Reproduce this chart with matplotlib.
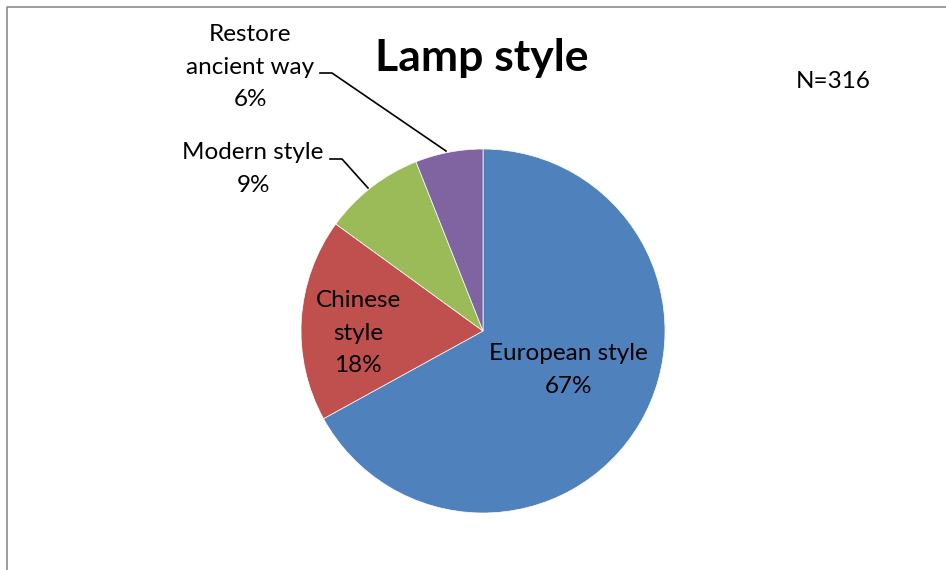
import matplotlib.pyplot as plt

categories = ['European style', 'Chinese style', 'Modern style', 'Restore ancient way']
shares = [67, 18, 9, 6]
colors = ['#4F81BD', '#C0504D', '#9BBB59', '#8064A2']
title = 'Lamp style'
note = 'N=316'

W, H = 946, 570
fig = plt.figure(figsize=(W / 100, H / 100), dpi=100)
ax = fig.add_axes([0, 0, 1, 1])

# pie in pixel coords (y axis flipped, so counterclock=True draws clockwise on screen)
ax.pie(shares, colors=colors, startangle=-90, counterclock=True,
       center=(483, 331), radius=182, frame=True,
       wedgeprops=dict(linewidth=0.5, edgecolor='white'))
ax.set_xlim(0, W)
ax.set_ylim(H, 0)
ax.set_aspect('equal')
ax.axis('off')

font = 'Lato'
fs = 17.5
ls = 1.65
# labels
ax.text(568, 370, 'European style\n67%', ha='center', va='center',
        fontsize=fs, family=font, linespacing=ls)
ax.text(358, 333, 'Chinese\nstyle\n18%', ha='center', va='center',
        fontsize=fs, family=font, linespacing=ls)
ax.text(253, 169, 'Modern style\n9%', ha='center', va='center',
        fontsize=fs, family=font, linespacing=ls)
ax.text(250, 67, 'Restore\nancient way\n6%', ha='center', va='center',
        fontsize=fs, family=font, linespacing=ls)

# leader lines
ax.plot([320, 332, 446], [73, 73, 151], color='black', lw=1.2)
ax.plot([330, 342, 368], [159, 159, 188], color='black', lw=1.2)

ax.text(482, 58, title, ha='center', va='center', fontsize=32,
        fontweight='bold', family=font)
ax.text(833, 82, note, ha='center', va='center', fontsize=fs, family=font)

# chart frame
ax.plot([6.5, 6.5, W + 5], [H + 5, 6.5, 6.5], color='#8c8c8c', lw=1.2,
        clip_on=False)

fig.savefig('out.png', dpi=100, facecolor='white')
